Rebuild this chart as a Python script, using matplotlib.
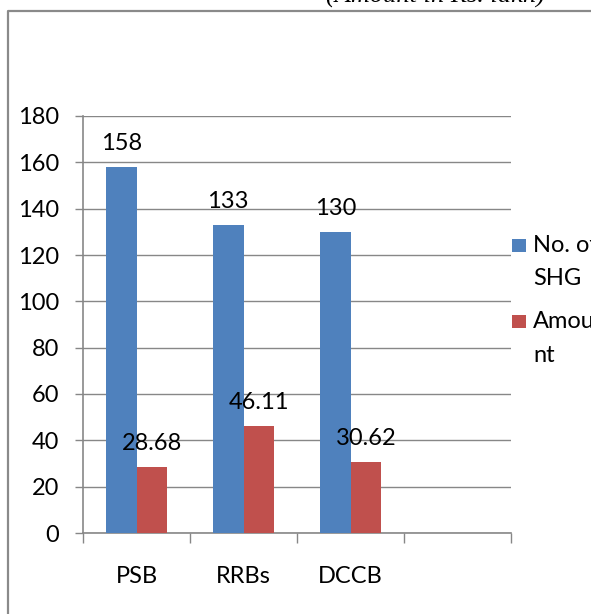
import matplotlib
matplotlib.use("Agg")
import matplotlib.pyplot as plt
from matplotlib.lines import Line2D
from matplotlib.patches import Rectangle
import numpy as np

# Data
categories = ["PSB", "RRBs", "DCCB"]
no_of_shg = [158, 133, 130]
amount = [28.68, 46.11, 30.62]
series_names = ["No. of\nSHG", "Amou\nnt"]
y_ticks = [0, 20, 40, 60, 80, 100, 120, 140, 160, 180]

BLUE = "#4F81BD"
RED = "#C0504D"
GRID = "#878787"
FONT = "Lato"
FS = 17

W, H = 591, 614
DPI = 100
fig = plt.figure(figsize=(W / DPI, H / DPI), dpi=DPI)
fig.patch.set_facecolor("white")


def px(x, y):
    """Convert pixel coords (origin top-left) into figure fraction."""
    return x / W, 1 - y / H


# Plot area in pixels
left, right, top, bottom = 83, 511, 116, 533
ax = fig.add_axes([left / W, 1 - bottom / H, (right - left) / W, (bottom - top) / H])

n_slots = len(categories) + 1
x = np.arange(len(categories))
bw = 0.285

b1 = ax.bar(x - bw / 2, no_of_shg, bw, color=BLUE, zorder=3)
b2 = ax.bar(x + bw / 2, amount, bw, color=RED, zorder=3)

ax.set_xlim(-0.5, n_slots - 0.5)
ax.set_ylim(0, 180)

# Grid and spines
ax.set_yticks(y_ticks)
ax.set_yticklabels([str(v) for v in y_ticks], fontsize=FS, family=FONT)
ax.yaxis.grid(True, color=GRID, linewidth=1.0, zorder=0)
for s in ["top", "right"]:
    ax.spines[s].set_visible(False)
for s in ["left", "bottom"]:
    ax.spines[s].set_color(GRID)
    ax.spines[s].set_linewidth(1.2)
ax.tick_params(axis="y", length=5.8, width=1.0, color=GRID, pad=11.5)

# Category boundaries as major ticks, category names as minor ticks
ax.set_xticks(np.arange(-0.5, n_slots, 1.0))
ax.set_xticklabels([])
ax.set_xticks(x, minor=True)
ax.set_xticklabels(categories, minor=True, fontsize=FS, family=FONT)
ax.tick_params(axis="x", which="major", length=7.2, width=1.0, color=GRID)
ax.tick_params(axis="x", which="minor", length=0, pad=24)

# Value labels
for bars, vals in [(b1, no_of_shg), (b2, amount)]:
    for rect, v in zip(bars, vals):
        ax.annotate(f"{v:g}", (rect.get_x() + rect.get_width() / 2, v),
                    xytext=(0, 12.2), textcoords="offset points",
                    ha="center", va="baseline", fontsize=FS, family=FONT,
                    zorder=4)

# Legend
legend_rows = [(BLUE, 239, [252, 285]), (RED, 315, [328, 362])]
for (color, ytop, baselines), name in zip(legend_rows, series_names):
    fx, fy = px(512, ytop + 13)
    fig.patches.append(Rectangle((fx, fy), 14 / W, 13 / H, transform=fig.transFigure,
                                 facecolor=color, edgecolor="none"))
    for line, bl in zip(name.split("\n"), baselines):
        tx, ty = px(533, bl)
        fig.text(tx, ty, line, fontsize=FS, family=FONT, ha="left", va="baseline")

# Outer frame
fx0, fy0 = px(8, 614)
fx1, fy1 = px(8, 11)
fx2, fy2 = px(W, 11)
fig.add_artist(Line2D([fx0, fx1, fx2], [fy0, fy1, fy2], transform=fig.transFigure,
                      color="#8a8a8a", linewidth=1.6))

# Unit note above the frame
tx, ty = px(435, 3)
fig.text(tx, ty, "(Amount in Rs. lakh)", fontsize=19, family="Liberation Serif",
         style="italic", ha="center", va="baseline")

fig.savefig("out.png", dpi=DPI, facecolor="white")
